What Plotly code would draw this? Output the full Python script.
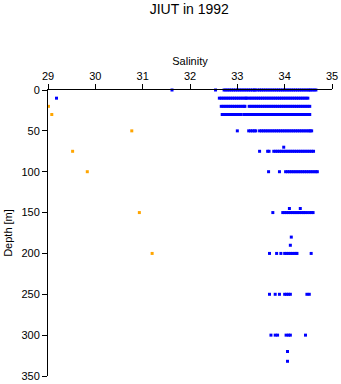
import plotly.graph_objects as go

# Blue station data: depth (m) -> list of salinity values
blue_depths = [0, 10, 20, 30, 50, 70, 75, 100, 145, 150, 180, 190, 200, 250, 300, 320, 332]
blue_sal = [
    # 0 m
    [31.62, 32.54, 32.72, 32.76, 32.80, 32.84, 32.88, 32.92, 32.96, 33.00, 33.04, 33.08,
     33.12, 33.16, 33.20, 33.24, 33.28, 33.32, 33.36, 33.38, 33.43, 33.47, 33.51, 33.55,
     33.59, 33.63, 33.67, 33.71, 33.75, 33.79, 33.83, 33.87, 33.91, 33.95, 33.99, 34.03,
     34.07, 34.11, 34.15, 34.19, 34.23, 34.27, 34.31, 34.35, 34.39, 34.43, 34.47, 34.51,
     34.54, 34.58, 34.62, 34.66],
    # 10 m
    [29.18, 32.62, 32.66, 32.70, 32.74, 32.78, 32.82, 32.86, 32.90, 32.94, 32.98, 33.02,
     33.06, 33.10, 33.14, 33.18, 33.20, 33.25, 33.29, 33.33, 33.37, 33.41, 33.45, 33.49,
     33.53, 33.57, 33.61, 33.65, 33.69, 33.73, 33.77, 33.81, 33.85, 33.89, 33.93, 33.97,
     34.01, 34.05, 34.09, 34.13, 34.17, 34.21, 34.25, 34.29, 34.33, 34.37, 34.41, 34.45,
     34.49],
    # 20 m
    [32.66, 32.70, 32.74, 32.78, 32.82, 32.86, 32.90, 32.94, 32.98, 33.02, 33.06, 33.10,
     33.14, 33.16, 33.25, 33.29, 33.33, 33.37, 33.41, 33.45, 33.49, 33.53, 33.57, 33.61,
     33.65, 33.69, 33.73, 33.77, 33.81, 33.85, 33.89, 33.93, 33.97, 34.01, 34.05, 34.09,
     34.13, 34.17, 34.21, 34.25, 34.29, 34.33, 34.37, 34.41, 34.45, 34.49, 34.53],
    # 30 m
    [32.68, 32.72, 32.76, 32.80, 32.84, 32.88, 32.92, 32.96, 33.00, 33.04, 33.08, 33.14,
     33.18, 33.22, 33.26, 33.30, 33.34, 33.38, 33.42, 33.46, 33.50, 33.54, 33.58, 33.62,
     33.66, 33.70, 33.74, 33.78, 33.82, 33.86, 33.90, 33.94, 33.98, 34.02, 34.06, 34.10,
     34.14, 34.18, 34.22, 34.26, 34.30, 34.34, 34.38, 34.42, 34.46, 34.50, 34.53],
    # 50 m
    [33.00, 33.24, 33.28, 33.32, 33.36, 33.39, 33.47, 33.51, 33.55, 33.59, 33.63, 33.67,
     33.71, 33.75, 33.79, 33.83, 33.87, 33.91, 33.95, 33.99, 34.03, 34.07, 34.11, 34.15,
     34.19, 34.23, 34.27, 34.31, 34.35, 34.39, 34.43, 34.47, 34.51, 34.54, 34.57],
    # 70 m
    [33.98],
    # 75 m
    [33.47, 33.64, 33.67, 33.77, 33.81, 33.85, 33.89, 33.93, 33.97, 34.01, 34.05, 34.09,
     34.13, 34.17, 34.21, 34.25, 34.29, 34.33, 34.37, 34.41, 34.45, 34.49, 34.53, 34.57,
     34.61],
    # 100 m
    [33.66, 33.89, 34.02, 34.06, 34.10, 34.14, 34.18, 34.22, 34.26, 34.30, 34.34, 34.38,
     34.42, 34.46, 34.50, 34.54, 34.58, 34.62, 34.66, 34.69],
    # 145 m
    [34.10, 34.33],
    # 150 m
    [33.75, 33.96, 34.00, 34.04, 34.08, 34.12, 34.16, 34.20, 34.24, 34.28, 34.32, 34.36,
     34.40, 34.43, 34.48, 34.53, 34.57, 34.60],
    # 180 m
    [34.14],
    # 190 m
    [34.12],
    # 200 m
    [33.68, 33.83, 33.92, 34.00, 34.04, 34.08, 34.12, 34.16, 34.20, 34.24, 34.26, 34.56],
    # 250 m
    [33.68, 33.80, 33.89, 34.00, 34.04, 34.08, 34.12, 34.47, 34.52],
    # 300 m
    [33.71, 33.80, 33.85, 34.03, 34.08, 34.12, 34.44],
    # 320 m
    [34.06],
    # 332 m
    [34.06],
]

# Orange station data
orange_depth = [20, 30, 50, 75, 100, 150, 200]
orange_sal = [29.01, 29.08, 30.77, 29.52, 29.83, 30.93, 31.20]

x_ticks = [29, 30, 31, 32, 33, 34, 35]
y_ticks = [0, 50, 100, 150, 200, 250, 300, 350]

bx, by = [], []
for d, row in zip(blue_depths, blue_sal):
    for s in row:
        bx.append(s)
        by.append(d)

fig = go.Figure()
fig.add_trace(go.Scatter(x=bx, y=by, mode="markers",
                         marker=dict(symbol="square", size=3, color="#0000ff", line=dict(width=0)),
                         showlegend=False, cliponaxis=False))
fig.add_trace(go.Scatter(x=orange_sal, y=orange_depth, mode="markers",
                         marker=dict(symbol="square", size=3, color="#ffa500", line=dict(width=0)),
                         showlegend=False, cliponaxis=False))

font = "Liberation Sans, Arial, sans-serif"
fig.update_layout(
    width=341, height=384,
    margin=dict(l=48, r=9, t=90, b=8, autoexpand=False),
    paper_bgcolor="white", plot_bgcolor="white",
    font=dict(family=font, size=11, color="black"),
    title=dict(text="JIUT in 1992", x=0.555, xanchor="center", xref="container",
               y=1 - 9 / 384, yanchor="middle", yref="container",
               font=dict(size=14, color="black", family=font)),
    xaxis=dict(range=[29, 35], side="top", tickvals=x_ticks, ticks="outside", ticklen=5,
               tickcolor="black", showline=True, linecolor="black", linewidth=1,
               showgrid=False, zeroline=False, automargin=False,
               title=dict(text="Salinity", standoff=1, font=dict(size=11))),
    yaxis=dict(range=[350, 0], tickvals=y_ticks, ticks="outside", ticklen=5,
               tickcolor="black", showline=True, linecolor="black", linewidth=1,
               showgrid=False, zeroline=False, automargin=False,
               title=dict(text="Depth [m]", standoff=6, font=dict(size=11))),
)

fig.write_html("out.html")
